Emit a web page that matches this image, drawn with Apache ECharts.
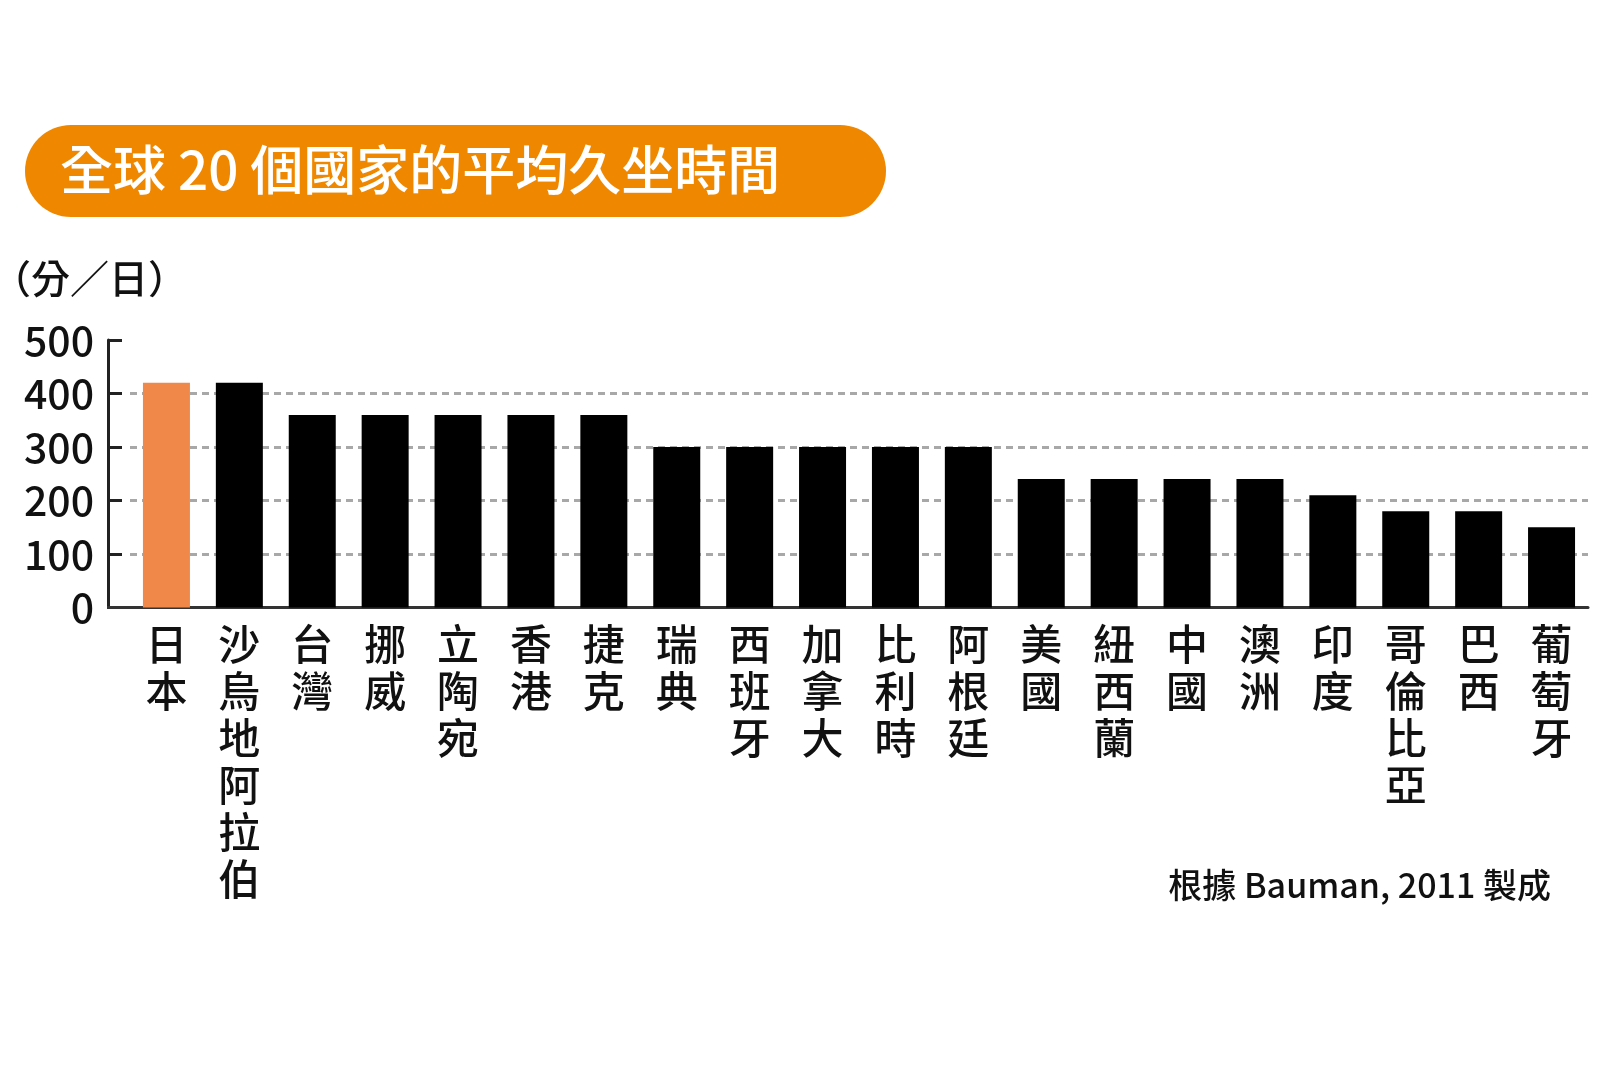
<!DOCTYPE html>
<html>
<head>
<meta charset="utf-8">
<script src="https://cdn.jsdelivr.net/npm/echarts@6/dist/echarts.min.js"></script>
<style>
  html, body { margin: 0; padding: 0; background: #fff; }
  #sitChart { width: 1600px; height: 1072px; }
</style>
</head>
<body>
<div id="sitChart"></div>
<script>
// countries, left to right
const countries = [
  '日本', '沙烏地阿拉伯', '台灣', '挪威', '立陶宛', '香港', '捷克',
  '瑞典', '西班牙', '加拿大', '比利時', '阿根廷', '美國', '紐西蘭',
  '中國', '澳洲', '印度', '哥倫比亞', '巴西', '葡萄牙'
];
// average sitting time (minutes / day)
const sitMinutes = [
  420, 420, 360, 360, 360, 360, 360,
  300, 300, 300, 300, 300, 240, 240,
  240, 240, 210, 180, 180, 150
];
const highlightName = '日本';

const chartTitle = '全球 20 個國家的平均久坐時間';
const unitText = '（分／日）';
const sourceText = '根據 Bauman, 2011 製成';

const cjkFont = '"Noto Sans CJK TC", "Noto Sans CJK JP", sans-serif';

let sitChart = echarts.init(document.getElementById('sitChart'));

let barData = countries.map(function (name, i) {
  return {
    value: sitMinutes[i],
    itemStyle: { color: name === highlightName ? '#F0884A' : '#000000' }
  };
});

let option = {
  backgroundColor: '#ffffff',
  animation: false,
  graphic: [
    {
      type: 'rect',
      shape: { x: 25, y: 125, width: 861, height: 92, r: 46 },
      style: { fill: '#EF8800' },
      z: 0
    },
    {
      // short piece of the base line left of the first category band
      type: 'line',
      shape: { x1: 107, y1: 607.5, x2: 131, y2: 607.5 },
      style: { stroke: '#333', lineWidth: 3 },
      z: 5
    }
  ],
  title: [
    {
      text: chartTitle,
      left: 60,
      top: 143,
      padding: 0,
      textStyle: { color: '#ffffff', fontSize: 53, fontWeight: 500, fontFamily: cjkFont },
      z: 10
    },
    {
      text: unitText,
      left: -8,
      top: 259,
      padding: 0,
      textStyle: { color: '#111', fontSize: 39, fontWeight: 500, fontFamily: cjkFont }
    },
    {
      text: sourceText,
      right: 49,
      top: 868,
      padding: 0,
      textStyle: { color: '#111', fontSize: 34, fontWeight: 500, fontFamily: cjkFont }
    }
  ],
  grid: {
    left: 130,
    right: 12,
    top: 340,
    bottom: 464.5,
    containLabel: false
  },
  xAxis: {
    type: 'category',
    data: countries,
    axisLine: { show: true, lineStyle: { color: '#333', width: 3 } },
    axisTick: { show: false },
    axisLabel: {
      interval: 0,
      margin: 13,
      color: '#111',
      fontSize: 42,
      fontWeight: 500,
      lineHeight: 47,
      fontFamily: cjkFont,
      formatter: function (v) { return v.split('').join('\n'); }
    }
  },
  yAxis: {
    type: 'value',
    min: 0,
    max: 500,
    interval: 100,
    offset: 22,
    axisLine: { show: true, lineStyle: { color: '#222', width: 3 } },
    axisTick: { show: true, inside: true, length: 14, lineStyle: { color: '#222', width: 3 } },
    axisLabel: {
      margin: 14,
      color: '#111',
      fontSize: 41,
      fontWeight: 500,
      fontFamily: cjkFont
    },
    splitLine: {
      show: true,
      lineStyle: {
        color: ['#a8a8a8', '#a8a8a8', '#a8a8a8', '#a8a8a8', '#a8a8a8', 'rgba(0,0,0,0)'],
        width: 3,
        type: [7, 5]
      }
    }
  },
  series: [
    {
      name: '久坐時間',
      type: 'bar',
      data: barData,
      barWidth: 47,
      z: 3
    }
  ]
};

option && sitChart.setOption(option);
</script>
</body>
</html>
